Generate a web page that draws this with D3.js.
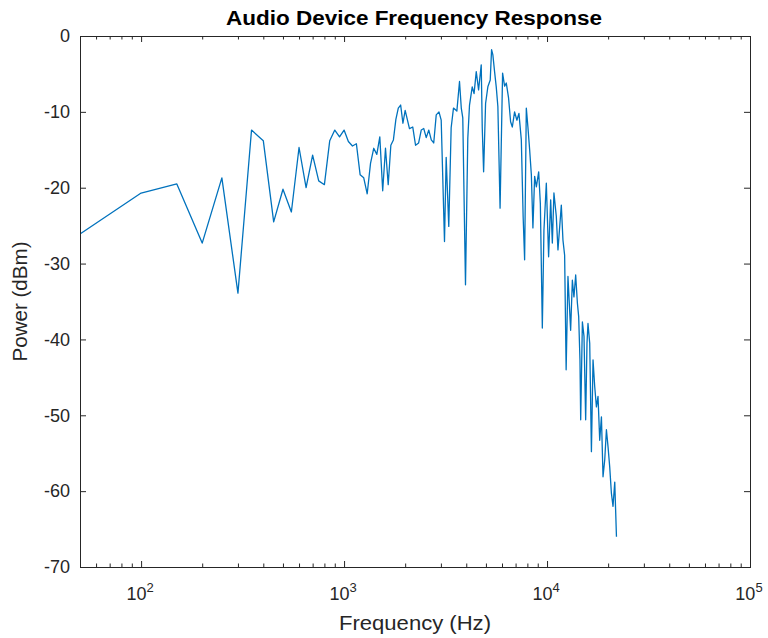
<!DOCTYPE html>
<html>
<head>
<meta charset="utf-8">
<script src="https://cdn.jsdelivr.net/npm/d3@7"></script>
<style>
  html, body { margin: 0; padding: 0; background: #ffffff; }
  svg { display: block; }
  text { font-family: "Liberation Sans", Arial, Helvetica, sans-serif; fill: #262626; }
</style>
</head>
<body>
<svg id="chart" width="768" height="638"></svg>
<script>
// ---------------- data ----------------
const chartTitle = "Audio Device Frequency Response";
const xLabel = "Frequency (Hz)";
const yLabel = "Power (dBm)";

const freqHz = [
  50, 100, 150, 200, 250, 300, 350, 400, 450, 500,
  550, 600, 650, 700, 750, 800, 850, 900, 950, 1000,
  1050, 1100, 1150, 1200, 1250, 1300, 1350, 1400, 1450, 1500,
  1550, 1600, 1650, 1700, 1750, 1800, 1850, 1900, 1950, 2000,
  2100, 2180, 2250, 2330, 2400, 2470, 2540, 2615, 2690, 2765,
  2845, 2935, 3010, 3125, 3185, 3280, 3370, 3460, 3595, 3705,
  3780, 3845, 3965, 4070, 4150, 4280, 4370, 4480, 4600, 4740,
  4795, 4870, 4980, 5110, 5250, 5330, 5410, 5515, 5620, 5725,
  5870, 6040, 6180, 6300, 6465, 6615, 6745, 6920, 7105, 7270,
  7470, 7625, 7755, 7905, 8050, 8210, 8370, 8520, 8690, 8860,
  9095, 9270, 9480, 9655, 9920, 10180, 10420, 10620, 10815, 11110,
  11320, 11760, 11980, 12210, 12420, 12680, 13070, 13330, 13570, 13840,
  14110, 14320, 14530, 14650, 14935, 15210, 15500, 15735, 15915, 16230,
  16545, 16850, 17175, 17510, 17830, 18180, 18535, 18875, 19240, 19615,
  19970, 20360, 20760, 21140, 21560, 21980
];

const powerDbm = [
  -26.1, -20.7, -19.5, -27.3, -18.7, -33.9, -12.4, -13.8, -24.5, -20.2,
  -23.2, -14.7, -20.0, -15.7, -19.1, -19.6, -13.8, -12.4, -13.3, -12.4,
  -13.9, -14.5, -14.2, -18.3, -18.7, -20.8, -16.8, -14.8, -15.6, -13.3,
  -20.4, -14.8, -19.6, -14.4, -13.7, -11.0, -9.5, -9.1, -11.5, -9.8,
  -12.2, -12.0, -14.4, -14.1, -12.4, -12.2, -13.4, -12.4, -13.7, -14.1,
  -10.4, -10.0, -11.1, -27.1, -16.0, -25.1, -12.1, -9.5, -9.9, -6.0,
  -9.5, -10.8, -32.8, -13.5, -9.1, -6.7, -7.6, -4.7, -7.1, -3.8,
  -12.1, -17.9, -8.9, -6.7, -5.8, -1.8, -2.5, -4.7, -6.7, -9.3,
  -22.7, -4.9, -6.6, -6.2, -8.2, -11.3, -12.0, -10.0, -11.1, -10.2,
  -13.7, -23.8, -29.5, -9.5, -12.0, -15.0, -18.3, -25.3, -18.5, -19.9,
  -17.9, -22.1, -38.5, -25.6, -19.4, -29.1, -21.6, -27.3, -20.7, -23.8,
  -28.2, -22.3, -26.9, -28.9, -44.0, -31.7, -38.8, -32.2, -34.4, -31.5,
  -35.2, -37.0, -42.7, -50.6, -37.7, -39.6, -50.6, -40.5, -37.9, -40.5,
  -54.8, -42.7, -46.2, -48.9, -47.5, -53.3, -50.2, -58.1, -55.9, -51.9,
  -54.1, -56.8, -60.3, -62.0, -58.8, -66.0
];

const xDomain = [50, 100000];
const xMajorTicks = [100, 1000, 10000, 100000];
const xTickExponents = ["2", "3", "4", "5"];
const yDomain = [-70, 0];
const yTicks = [-70, -60, -50, -40, -30, -20, -10, 0];

// ---------------- layout ----------------
const svg = d3.select("#chart");
const margin = { left: 80, right: 18, top: 36, bottom: 71 };
const W = 768, H = 638;
const plotW = W - margin.left - margin.right;
const plotH = H - margin.top - margin.bottom;
const axisColor = "#262626";
const lineColor = "#0072BD";

const x = d3.scaleLog().domain(xDomain).range([0, plotW]);
const y = d3.scaleLinear().domain(yDomain).range([plotH, 0]);

const g = svg.append("g").attr("transform", `translate(${margin.left},${margin.top})`);

// minor ticks for log axis
const minorTicks = [];
for (let dec = 10; dec <= 10000; dec *= 10) {
  for (let m = 2; m <= 9; m++) {
    const v = m * dec;
    if (v > xDomain[0] && v < xDomain[1]) minorTicks.push(v);
  }
}

// line
const data = freqHz.map((f, i) => ({ f, p: powerDbm[i] }));
const line = d3.line().x(d => x(d.f)).y(d => y(d.p));
svg.append("defs").append("clipPath").attr("id", "clip")
  .append("rect").attr("width", plotW).attr("height", plotH);
g.append("path")
  .datum(data)
  .attr("clip-path", "url(#clip)")
  .attr("fill", "none")
  .attr("stroke", lineColor)
  .attr("stroke-width", 1.3)
  .attr("stroke-linejoin", "round")
  .attr("d", line);

// axes: bottom / top (inward ticks)
const majLen = 6, minLen = 3.5;
const bottomAxis = d3.axisBottom(x).tickValues(xMajorTicks).tickSizeInner(-majLen).tickSizeOuter(0).tickFormat("");
const bottomMinor = d3.axisBottom(x).tickValues(minorTicks).tickSizeInner(-minLen).tickSizeOuter(0).tickFormat("");
const topAxis = d3.axisTop(x).tickValues(xMajorTicks).tickSizeInner(-majLen).tickSizeOuter(0).tickFormat("");
const topMinor = d3.axisTop(x).tickValues(minorTicks).tickSizeInner(-minLen).tickSizeOuter(0).tickFormat("");
const leftAxis = d3.axisLeft(y).tickValues(yTicks).tickSizeInner(-majLen).tickSizeOuter(0).tickFormat("");
const rightAxis = d3.axisRight(y).tickValues(yTicks).tickSizeInner(-majLen).tickSizeOuter(0).tickFormat("");

function styleAxis(sel) {
  sel.select(".domain").remove();
  sel.selectAll("line").attr("stroke", axisColor).attr("stroke-width", 1);
}
g.append("g").attr("transform", `translate(0,${plotH})`).call(bottomAxis).call(styleAxis);
g.append("g").attr("transform", `translate(0,${plotH})`).call(bottomMinor).call(styleAxis);
g.append("g").call(topAxis).call(styleAxis);
g.append("g").call(topMinor).call(styleAxis);
g.append("g").call(leftAxis).call(styleAxis);
g.append("g").attr("transform", `translate(${plotW},0)`).call(rightAxis).call(styleAxis);

// box
g.append("rect")
  .attr("x", 0.5).attr("y", 0.5)
  .attr("width", plotW).attr("height", plotH)
  .attr("fill", "none").attr("stroke", axisColor).attr("stroke-width", 1);

// y tick labels
g.selectAll(".ylab").data(yTicks).enter().append("text")
  .attr("x", -10).attr("y", d => y(d))
  .attr("dy", "0.35em")
  .attr("text-anchor", "end")
  .style("font-size", "18px")
  .text(d => d);

// x tick labels 10^n
const xl = g.selectAll(".xlab").data(xMajorTicks).enter().append("text")
  .attr("x", d => x(d) - 1)
  .attr("y", plotH + 33)
  .attr("text-anchor", "middle")
  .style("font-size", "18px");
xl.append("tspan").text("10");
xl.append("tspan").attr("dy", -8).style("font-size", "13px").text((d, i) => xTickExponents[i]);

// title
svg.append("text")
  .attr("x", margin.left + plotW / 2 - 1)
  .attr("y", 25)
  .attr("text-anchor", "middle")
  .attr("textLength", 376)
  .attr("lengthAdjust", "spacingAndGlyphs")
  .style("font-size", "20px")
  .style("font-weight", "bold")
  .style("fill", "#000")
  .text(chartTitle);

// x label
svg.append("text")
  .attr("x", margin.left + plotW / 2)
  .attr("y", 630)
  .attr("text-anchor", "middle")
  .attr("textLength", 152)
  .attr("lengthAdjust", "spacingAndGlyphs")
  .style("font-size", "20px")
  .text(xLabel);

// y label
svg.append("text")
  .attr("transform", `translate(27,${margin.top + plotH / 2}) rotate(-90)`)
  .attr("text-anchor", "middle")
  .attr("textLength", 120)
  .attr("lengthAdjust", "spacingAndGlyphs")
  .style("font-size", "20px")
  .text(yLabel);
</script>
</body>
</html>
